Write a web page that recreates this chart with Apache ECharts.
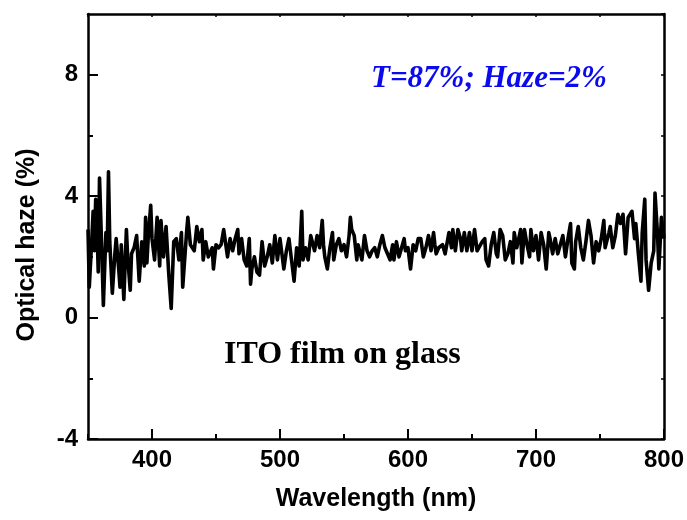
<!DOCTYPE html>
<html>
<head>
<meta charset="utf-8">
<script src="https://cdn.jsdelivr.net/npm/echarts@6/dist/echarts.min.js"></script>
<style>
  html, body { margin: 0; padding: 0; background: #fff; }
  #charts { width: 687px; height: 520px; }
</style>
</head>
<body>
<div id="charts"></div>
<script>
// values
var wavelength = [
  350, 351, 353, 354, 355, 356, 357, 358, 359, 361, 362, 364, 365, 366, 367, 369, 371, 372, 374, 375,
  376, 378, 380, 381, 383, 384, 386, 388, 390, 392, 394, 395, 396, 397, 399, 400, 402, 404, 406, 407,
  409, 411, 413, 415, 417, 419, 421, 423, 424, 426, 427, 428, 430, 433, 435, 437,
  439, 440, 442, 444, 447, 448, 450, 452, 454, 456, 457, 459, 461, 463, 465, 467, 468, 470, 472, 474,
  476, 477, 478, 480, 482, 484, 486, 488, 490, 492, 494, 496, 498, 500, 503, 505, 507, 509, 511, 513,
  515, 517, 518, 520, 522, 524, 527, 529,
  531, 533, 534, 535, 537, 539, 541, 542, 544, 546, 548, 550, 552, 554, 555, 556, 558, 560, 561, 564,
  566, 568, 570, 572, 574, 576, 578, 580, 582, 584, 586, 588, 589, 591, 593, 595, 597, 598, 600, 602,
  604, 606, 608, 610, 612, 614, 616, 618, 620, 621,
  622, 624, 627, 629, 632, 634, 635, 637, 639, 641, 642, 644, 646, 648, 650, 652, 654, 655, 658, 660,
  661, 663, 665, 667, 669, 670, 672, 674, 676, 678, 680, 682, 683, 685, 688, 689, 691, 693, 695, 696,
  698, 700, 702, 704, 706, 708, 710,
  711, 713, 715, 717, 719, 721, 723, 725, 727, 728, 730, 731, 733, 735, 737, 739, 741, 743, 745, 747,
  749, 751, 753, 754, 757, 758, 760, 762, 764, 766, 768, 770, 772, 775, 777, 778, 780, 782, 783, 785,
  786, 788, 790, 792, 793, 795, 796, 798, 800
];
var haze = [
  2.9, 1.0, 2.6, 3.5, 2.2, 3.9, 3.0, 1.5, 4.6, 1.9, 0.4, 2.8, 2.2, 4.8, 2.5, 0.8, 2.1, 2.6, 1.6, 1.0,
  2.4, 0.6, 2.9, 2.0, 0.9, 2.1, 2.3, 2.7, 1.2, 2.5, 1.7, 3.3, 1.8, 2.6, 3.7, 2.6, 1.9, 3.3, 1.7, 3.2,
  2.0, 3.0, 1.5, 0.3, 2.5, 2.6, 1.9, 2.8, 1.0, 2.2, 2.8, 3.3, 2.4, 2.2, 3.0, 2.5,
  2.9, 1.9, 2.5, 2.0, 2.3, 1.6, 2.4, 2.3, 2.4, 2.9, 2.9, 2.0, 2.6, 2.2, 2.6, 2.9, 2.1, 2.6, 1.9, 1.7,
  2.6, 1.1, 1.6, 2.0, 1.5, 1.4, 2.5, 1.7, 2.0, 2.4, 1.8, 2.7, 1.9, 2.6, 1.6, 2.2, 2.6, 1.9, 1.2, 2.3,
  1.7, 3.5, 1.9, 2.3, 1.9, 2.7, 2.2, 2.7,
  2.3, 3.2, 2.4, 2.0, 1.6, 2.3, 2.8, 1.9, 2.4, 2.6, 2.2, 2.4, 2.0, 2.7, 3.3, 2.9, 2.7, 1.9, 2.4, 1.9,
  2.7, 2.2, 2.0, 2.2, 2.3, 2.0, 2.4, 2.7, 2.3, 2.1, 1.9, 2.4, 1.9, 2.5, 2.0, 2.3, 2.6, 2.2, 2.3, 1.6,
  2.4, 2.2, 2.6, 2.6, 2.0, 2.3, 2.7, 2.2, 2.8, 2.4,
  2.1, 2.3, 2.4, 2.1, 2.8, 2.3, 2.9, 2.2, 2.9, 2.6, 2.2, 2.8, 2.2, 2.8, 2.2, 2.9, 2.2, 2.2, 2.5, 2.6,
  1.9, 1.7, 2.4, 2.8, 2.1, 2.0, 2.9, 2.7, 1.9, 2.1, 2.5, 1.8, 2.8, 2.3, 2.9, 1.8, 2.9, 2.4, 2.0, 2.9,
  2.2, 2.7, 1.9, 2.8, 2.4, 1.6, 2.8,
  2.6, 2.1, 2.6, 2.1, 2.4, 2.7, 2.0, 2.6, 3.1, 1.8, 1.6, 2.5, 3.0, 2.3, 1.9, 2.5, 3.2, 2.7, 1.8, 2.5,
  2.2, 2.6, 3.2, 2.3, 2.8, 3.0, 2.3, 2.7, 3.4, 3.1, 3.4, 2.1, 3.3, 3.5, 2.6, 3.1, 2.1, 1.2, 2.8, 3.9,
  1.9, 0.9, 1.8, 2.2, 4.1, 2.7, 1.6, 3.3, 2.6
];
var xLabelTicks = [400, 500, 600, 700, 800];
var xMinorTicks = [350, 450, 550, 650, 750];
var yLabelTicks = [-4, 0, 4, 8];
var yMinorTicks = [-2, 2, 6];

var points = wavelength.map(function (w, i) { return [w, haze[i]]; });

var myChart = echarts.init(document.getElementById('charts'), null, { width: 687, height: 520 });

var axisFont = { color: '#000', fontFamily: 'Liberation Sans', fontWeight: 'bold', fontSize: 24 };

var option = {
  animation: false,
  backgroundColor: '#fff',
  grid: { left: 88, right: 21, top: 14, bottom: 81, containLabel: false },
  xAxis: [
    {
      type: 'value', min: 350, max: 800, interval: 50, position: 'bottom',
      axisLine: { show: true, onZero: false, lineStyle: { color: '#000', width: 2.5 } },
      axisTick: { show: true, inside: true, length: 10, customValues: xLabelTicks, lineStyle: { color: '#000', width: 2 } },
      axisLabel: Object.assign({ customValues: xLabelTicks, margin: 9 }, axisFont),
      splitLine: { show: false },
      name: 'Wavelength (nm)', nameLocation: 'middle', nameGap: 48,
      nameTextStyle: { color: '#000', fontFamily: 'Liberation Sans', fontWeight: 'bold', fontSize: 25 }
    },
    {
      type: 'value', min: 350, max: 800, interval: 50, position: 'bottom',
      axisLine: { show: false, onZero: false },
      axisTick: { show: true, inside: true, length: 5, customValues: xMinorTicks, lineStyle: { color: '#000', width: 2 } },
      axisLabel: { show: false },
      splitLine: { show: false }
    },
    {
      type: 'value', min: 350, max: 800, interval: 50, position: 'top',
      axisLine: { show: true, onZero: false, lineStyle: { color: '#000', width: 2.5 } },
      axisTick: { show: true, inside: true, length: 3, lineStyle: { color: '#000', width: 1.5 } },
      axisLabel: { show: false },
      splitLine: { show: false }
    }
  ],
  yAxis: [
    {
      type: 'value', min: -4, max: 10, interval: 2, position: 'left',
      axisLine: { show: true, onZero: false, lineStyle: { color: '#000', width: 2.5 } },
      axisTick: { show: true, inside: true, length: 10, customValues: yLabelTicks, lineStyle: { color: '#000', width: 2 } },
      axisLabel: Object.assign({ customValues: yLabelTicks, margin: 10 }, axisFont),
      splitLine: { show: false }
    },
    {
      type: 'value', min: -4, max: 10, interval: 2, position: 'left',
      axisLine: { show: false, onZero: false },
      axisTick: { show: true, inside: true, length: 5, customValues: yMinorTicks, lineStyle: { color: '#000', width: 2 } },
      axisLabel: { show: false },
      splitLine: { show: false }
    },
    {
      type: 'value', min: -4, max: 10, interval: 2, position: 'right',
      axisLine: { show: true, onZero: false, lineStyle: { color: '#000', width: 2.5 } },
      axisTick: { show: true, inside: true, length: 3, lineStyle: { color: '#000', width: 1.5 } },
      axisLabel: { show: false },
      splitLine: { show: false }
    }
  ],
  graphic: [
    {
      type: 'text', x: 27, y: 245, rotation: Math.PI / 2,
      style: {
        text: 'Optical haze (%)', fill: '#000', align: 'center', verticalAlign: 'middle',
        font: 'bold 25px "Liberation Sans"'
      }
    },
    {
      type: 'text', x: 371, y: 79,
      style: {
        text: 'T=87%; Haze=2%', fill: '#0a0af0', align: 'left', verticalAlign: 'middle',
        font: 'italic bold 31px "Liberation Serif"'
      }
    },
    {
      type: 'text', x: 224, y: 355,
      style: {
        text: 'ITO film on glass', fill: '#000', align: 'left', verticalAlign: 'middle',
        font: 'bold 32px "Liberation Serif"'
      }
    }
  ],
  series: [
    {
      name: 'Optical haze',
      type: 'line',
      xAxisIndex: 0,
      yAxisIndex: 0,
      data: points,
      showSymbol: false,
      lineStyle: { color: '#000', width: 3.6, join: 'round' }
    }
  ]
};

myChart.setOption(option);
</script>
</body>
</html>
